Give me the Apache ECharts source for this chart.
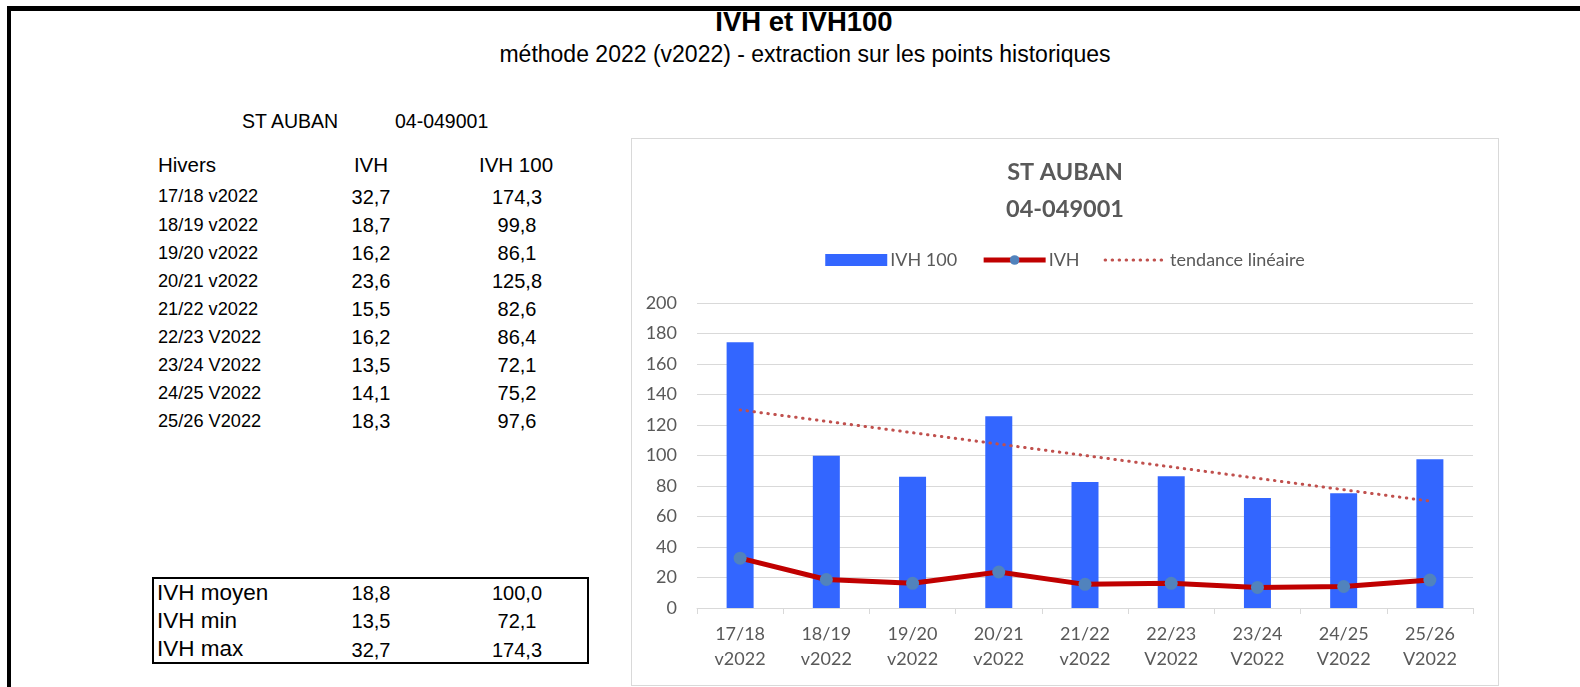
<!DOCTYPE html>
<html lang="fr">
<head>
    <meta charset="UTF-8"/>
    <title>IVH et IVH100</title>
    <script src="https://cdn.jsdelivr.net/npm/echarts@6/dist/echarts.min.js"></script>
    <style>
        html, body { margin: 0; padding: 0; background: #fff; }
        body { width: 1580px; height: 687px; position: relative; overflow: hidden; font-family: "Liberation Sans", Arial, sans-serif; color: #000; }
        .frame { position: absolute; left: 7px; top: 6px; right: -10px; bottom: -10px; border-top: 5px solid #000; border-left: 4px solid #000; }
        .t { position: absolute; white-space: pre; line-height: 1; }
        .c { transform: translateX(-50%); }
        #stats { position: absolute; left: 152px; top: 577px; width: 433px; height: 83px; border: 2px solid #000; }
        #main { position: absolute; left: 631px; top: 138px; width: 866px; height: 546px; border: 1px solid #d9d9d9; }
    </style>
</head>
<body>
<div class="frame"></div>
<div id="sheet"></div>
<div id="stats"></div>
<div id="main"></div>

<script type="text/javascript">
    var hivers = ['17/18 v2022', '18/19 v2022', '19/20 v2022', '20/21 v2022', '21/22 v2022',
                  '22/23 V2022', '23/24 V2022', '24/25 V2022', '25/26 V2022'];
    var ivh = [32.7, 18.7, 16.2, 23.6, 15.5, 16.2, 13.5, 14.1, 18.3];
    var ivh100 = [174.3, 99.8, 86.1, 125.8, 82.6, 86.4, 72.1, 75.2, 97.6];
    var statLabels = ['IVH moyen', 'IVH min', 'IVH max'];
    var statIvh = [18.8, 13.5, 32.7];
    var statIvh100 = [100.0, 72.1, 174.3];
    // tendance linéaire (extrémités)
    var tendance = [129.9, 70.1];

    function fr(v) { return v.toFixed(1).replace('.', ','); }

    var sheet = document.getElementById('sheet');
    function txt(parent, s, x, y, size, extra) {
        var d = document.createElement('div');
        d.className = 't' + (extra && extra.center ? ' c' : '');
        d.textContent = s;
        d.style.left = x + 'px';
        d.style.top = (y - size / 2) + 'px';
        d.style.fontSize = size + 'px';
        if (extra && extra.bold) d.style.fontWeight = 'bold';
        parent.appendChild(d);
    }

    txt(sheet, 'IVH et IVH100', 804, 22, 27.5, {center: true, bold: true});
    txt(sheet, 'méthode 2022 (v2022) - extraction sur les points historiques', 805, 54, 23, {center: true});
    txt(sheet, 'ST AUBAN', 242, 122, 19.5);
    txt(sheet, '04-049001', 395, 122, 19.5);

    txt(sheet, 'Hivers', 158, 165, 20.5);
    txt(sheet, 'IVH', 371, 165, 20.5, {center: true});
    txt(sheet, 'IVH 100', 516, 165, 20.5, {center: true});
    for (var i = 0; i < hivers.length; i++) {
        var y = 196.5 + i * 28.1;
        txt(sheet, hivers[i], 158, y, 18.2);
        txt(sheet, fr(ivh[i]), 371, y, 20, {center: true});
        txt(sheet, fr(ivh100[i]), 517, y, 20, {center: true});
    }

    var stats = document.getElementById('stats');
    for (var k = 0; k < statLabels.length; k++) {
        var sy = 14 + k * 28.3;
        txt(stats, statLabels[k], 3, sy, 22.5);
        txt(stats, fr(statIvh[k]), 217, sy, 20, {center: true});
        txt(stats, fr(statIvh100[k]), 363, sy, 20, {center: true});
    }

    // graphique
    var categories = hivers.map(function (h) { return h.replace(' ', '\n'); });
    var trendData = categories.map(function () { return null; });
    trendData[0] = tendance[0];
    trendData[trendData.length - 1] = tendance[1];

    var myChart = echarts.init(document.getElementById('main'));
    var grey = '#595959';
    var option = {
        animation: false,
        textStyle: { fontFamily: 'Lato' },
        title: {
            text: 'ST AUBAN\n04-049001',
            left: 'center',
            top: 10,
            textStyle: { fontSize: 23.5, fontWeight: 'bold', color: grey, lineHeight: 37, fontFamily: 'Lato' }
        },
        legend: {
            top: 107,
            left: 'center',
            itemWidth: 62,
            itemHeight: 12,
            itemGap: 24,
            textStyle: { fontSize: 18, color: grey, padding: [0, 0, 0, -2] },
            data: [
                { name: 'IVH 100', icon: 'rect' },
                { name: 'IVH', lineStyle: { width: 5 } },
                { name: 'tendance linéaire', itemStyle: { opacity: 0 }, lineStyle: { width: 3 } }
            ]
        },
        grid: { left: 65, right: 25, top: 164, height: 305 },
        xAxis: {
            type: 'category',
            data: categories,
            axisLine: { lineStyle: { color: '#d9d9d9', width: 1 } },
            axisTick: { show: true, length: 6, lineStyle: { color: '#d9d9d9' } },
            axisLabel: { color: grey, fontSize: 18, lineHeight: 25, margin: 14 }
        },
        yAxis: {
            type: 'value',
            min: 0, max: 200, interval: 20,
            axisLine: { show: false },
            axisTick: { show: false },
            splitLine: { lineStyle: { color: '#d9d9d9', width: 1 } },
            axisLabel: { color: grey, fontSize: 18, margin: 20 }
        },
        series: [
            {
                name: 'IVH 100',
                type: 'bar',
                data: ivh100,
                barWidth: 27,
                itemStyle: { color: '#3366ff' }
            },
            {
                name: 'IVH',
                type: 'line',
                data: ivh,
                symbol: 'circle',
                symbolSize: 13,
                lineStyle: { color: '#c00000', width: 5 },
                itemStyle: { color: '#5183bd' },
                z: 5
            },
            {
                name: 'tendance linéaire',
                type: 'line',
                data: trendData,
                connectNulls: true,
                symbol: 'none',
                lineStyle: { color: '#c0504d', width: 3, type: [0.5, 6.5], cap: 'round' },
                itemStyle: { color: '#c0504d' },
                z: 4
            }
        ]
    };

    myChart.setOption(option);
</script>
</body>
</html>
